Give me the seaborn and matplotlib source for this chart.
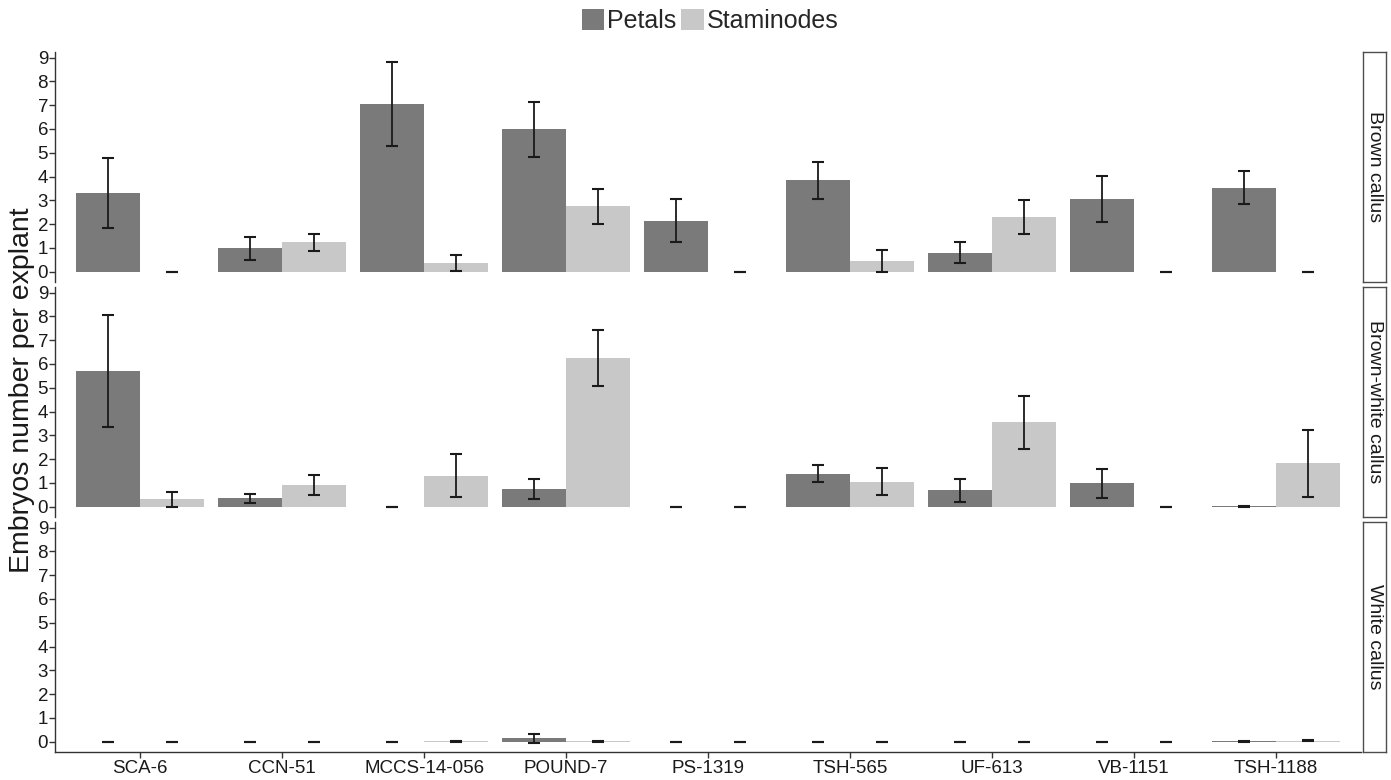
import matplotlib
matplotlib.use("Agg")
import matplotlib.pyplot as plt
import matplotlib.patches as mpatches
import numpy as np
import pandas as pd
import seaborn as sns

# ---------------- data ----------------
genotypes = ["SCA-6", "CCN-51", "MCCS-14-056", "POUND-7", "PS-1319",
             "TSH-565", "UF-613", "VB-1151", "TSH-1188"]
tissues = ["Petals", "Staminodes"]
callus_types = ["Brown callus", "Brown-white callus", "White callus"]

brown_petals = [3.30, 0.97, 7.05, 5.98, 2.14, 3.84, 0.80, 3.05, 3.53]
brown_petals_se = [1.47, 0.50, 1.75, 1.16, 0.90, 0.77, 0.46, 0.98, 0.70]
brown_stam = [0.00, 1.23, 0.35, 2.74, 0.00, 0.45, 2.28, 0.00, 0.00]
brown_stam_se = [0.00, 0.37, 0.33, 0.72, 0.00, 0.45, 0.72, 0.00, 0.00]

bw_petals = [5.71, 0.34, 0.00, 0.72, 0.00, 1.38, 0.68, 0.97, 0.02]
bw_petals_se = [2.37, 0.20, 0.00, 0.42, 0.00, 0.36, 0.50, 0.62, 0.02]
bw_stam = [0.30, 0.92, 1.30, 6.26, 0.00, 1.05, 3.54, 0.00, 1.82]
bw_stam_se = [0.33, 0.42, 0.90, 1.18, 0.00, 0.57, 1.12, 0.00, 1.40]

white_petals = [0.00, 0.00, 0.00, 0.13, 0.00, 0.00, 0.00, 0.00, 0.02]
white_petals_se = [0.00, 0.00, 0.00, 0.18, 0.00, 0.00, 0.00, 0.00, 0.02]
white_stam = [0.00, 0.00, 0.02, 0.02, 0.00, 0.00, 0.00, 0.00, 0.04]
white_stam_se = [0.00, 0.00, 0.02, 0.02, 0.00, 0.00, 0.00, 0.00, 0.03]

panel_values = {
    "Brown callus": (brown_petals, brown_petals_se, brown_stam, brown_stam_se),
    "Brown-white callus": (bw_petals, bw_petals_se, bw_stam, bw_stam_se),
    "White callus": (white_petals, white_petals_se, white_stam, white_stam_se),
}

rows = []
for cal in callus_types:
    p, pse, s, sse = panel_values[cal]
    for i, g in enumerate(genotypes):
        rows.append(dict(callus=cal, genotype=g, tissue="Petals", value=p[i], se=pse[i]))
        rows.append(dict(callus=cal, genotype=g, tissue="Staminodes", value=s[i], se=sse[i]))
df = pd.DataFrame(rows)

# ---------------- style ----------------
sns.set_theme(style="white")
plt.rcParams["font.family"] = ["Liberation Sans", "DejaVu Sans"]

colors = {"Petals": "#7a7a7a", "Staminodes": "#c8c8c8"}
W, H = 1391, 780
fig = plt.figure(figsize=(W / 100, H / 100), dpi=100)

left_px, right_px = 55, 1361
panels_px = [(52, 282), (287, 517), (522, 752)]
strip_l, strip_r = 1363, 1386

def fx(px):
    return px / W

def fy(px):
    return 1 - px / H

axes = []
for k, cal in enumerate(callus_types):
    top, bot = panels_px[k]
    ax = fig.add_axes([fx(left_px), fy(bot), fx(right_px - left_px), (bot - top) / H])
    sub = df[df.callus == cal]
    sns.barplot(data=sub, x="genotype", y="value", hue="tissue", order=genotypes,
                hue_order=tissues, palette=colors, errorbar=None, width=0.9,
                saturation=1, linewidth=0, legend=False, ax=ax)
    # error bars at bar centres
    for cont, t in zip(ax.containers, tissues):
        st = sub[sub.tissue == t].set_index("genotype").loc[genotypes]
        xs = [b.get_x() + b.get_width() / 2 for b in cont]
        ax.errorbar(xs, st["value"].values, yerr=st["se"].values, fmt="none",
                    ecolor="#1a1a1a", elinewidth=1.3, capsize=4.6, capthick=1.5, zorder=5)
    ax.set_xlim(-0.6, len(genotypes) - 0.4)
    ax.set_ylim(-0.44, 9.24)
    ax.set_yticks(range(10))
    ax.set_xlabel("")
    ax.set_ylabel("")
    for s in ["top", "right"]:
        ax.spines[s].set_visible(False)
    ax.spines["left"].set_color("#333333")
    ax.spines["left"].set_linewidth(1.0)
    ax.tick_params(axis="y", left=True, length=4, width=1, color="#333333",
                   labelsize=13.5, labelcolor="#1a1a1a", pad=1)
    if k < 2:
        ax.spines["bottom"].set_visible(False)
        ax.tick_params(axis="x", bottom=False, labelbottom=False)
    else:
        ax.spines["bottom"].set_color("#333333")
        ax.spines["bottom"].set_linewidth(1.0)
        ax.tick_params(axis="x", bottom=True, length=4, width=1, color="#333333",
                       labelsize=13.5, labelcolor="#1a1a1a", pad=2)
    ax.set_facecolor("white")
    axes.append(ax)

    # strip on the right
    sax = fig.add_axes([fx(strip_l), fy(bot), fx(strip_r - strip_l), (bot - top) / H])
    sax.set_xticks([])
    sax.set_yticks([])
    sax.set_facecolor("white")
    for s in sax.spines.values():
        s.set_color("#4d4d4d")
        s.set_linewidth(1.0)
    sax.text(0.5, 0.5, cal, rotation=-90, ha="center", va="center",
             fontsize=14, color="#1a1a1a", transform=sax.transAxes)

fig.text(fx(22), fy(390), "Embryos number per explant", rotation=90,
         ha="center", va="center", fontsize=20.5, color="#1a1a1a")

handles = [mpatches.Patch(facecolor=colors[t], edgecolor="none", label=t) for t in tissues]
fig.legend(handles=handles, loc="center", bbox_to_anchor=(fx(710), fy(21)), ncol=2,
           frameon=False, fontsize=18, handlelength=0.9, handleheight=0.95,
           handletextpad=0.12, columnspacing=0.2, borderpad=0)

fig.savefig("out.png", dpi=100, facecolor="white")
